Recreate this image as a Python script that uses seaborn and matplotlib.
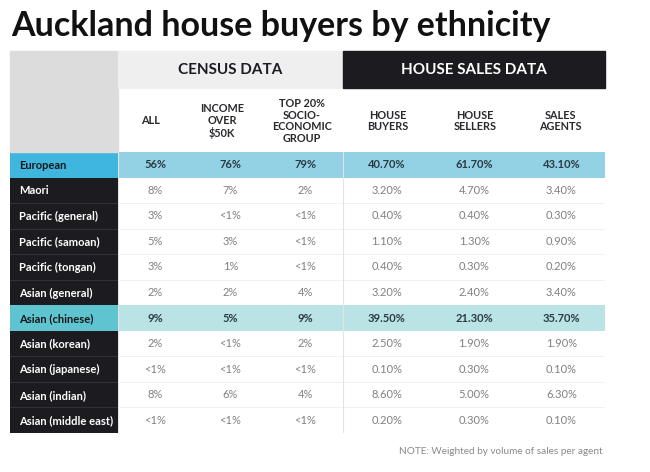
import numpy as np
import pandas as pd
import matplotlib
matplotlib.use("Agg")
import matplotlib.pyplot as plt
from matplotlib.colors import ListedColormap
from matplotlib.patches import Rectangle
import seaborn as sns

# table content
groups = ["European", "Maori", "Pacific (general)", "Pacific (samoan)", "Pacific (tongan)",
          "Asian (general)", "Asian (chinese)", "Asian (korean)", "Asian (japanese)",
          "Asian (indian)", "Asian (middle east)"]
census_cols = ["ALL", "INCOME\nOVER\n$50K", "TOP 20%\nSOCIO-\nECONOMIC\nGROUP"]
sales_cols = ["HOUSE\nBUYERS", "HOUSE\nSELLERS", "SALES\nAGENTS"]
census_all = ["56%", "8%", "3%", "5%", "3%", "2%", "9%", "2%", "<1%", "8%", "<1%"]
census_income = ["76%", "7%", "<1%", "3%", "1%", "2%", "5%", "<1%", "<1%", "6%", "<1%"]
census_top20 = ["79%", "2%", "<1%", "<1%", "<1%", "4%", "9%", "2%", "<1%", "4%", "<1%"]
house_buyers = ["40.70%", "3.20%", "0.40%", "1.10%", "0.40%", "3.20%", "39.50%", "2.50%", "0.10%", "8.60%", "0.20%"]
house_sellers = ["61.70%", "4.70%", "0.40%", "1.30%", "0.30%", "2.40%", "21.30%", "1.90%", "0.30%", "5.00%", "0.30%"]
sales_agents = ["43.10%", "3.40%", "0.30%", "0.90%", "0.20%", "3.40%", "35.70%", "1.90%", "0.10%", "6.30%", "0.10%"]
highlight = {"European": 1, "Asian (chinese)": 2}

W, H = 650, 472
fig = plt.figure(figsize=(6.5, 4.72), dpi=100)
fig.patch.set_facecolor("white")


def box(x0, y0, x1, y1):
    # pixel box -> figure fraction [left, bottom, width, height]
    return [x0 / W, 1 - y1 / H, (x1 - x0) / W, (y1 - y0) / H]


def fx(x):
    return x / W


def fy(y):
    return 1 - y / H


row_kind = np.array([highlight.get(g, 0) for g in groups])
body_cmap = ListedColormap(["white", "#92d2e4", "#b9e3e5"])
label_cmap = ListedColormap(["#1c1b20", "#3fb6de", "#5ec5d0"])

top, bottom = 152, 433

# label column
ax_l = fig.add_axes(box(10, top, 118, bottom))
sns.heatmap(pd.DataFrame({"g": row_kind}, index=groups), ax=ax_l, cmap=label_cmap,
            vmin=-0.5, vmax=2.5, cbar=False, xticklabels=False, yticklabels=False)
for i in range(1, len(groups)):
    if row_kind[i] == 0 and row_kind[i - 1] == 0:
        ax_l.axhline(i, color="#33323a", lw=0.7)
for i, g in enumerate(groups):
    hl = g in highlight
    ax_l.text(0.08, i + 0.52, g, ha="left", va="center", fontsize=8,
              fontweight="bold", color="#15161a" if hl else "white", family="Lato")

# census body and sales body
for (x0, x1, cols) in [(118, 343, [census_all, census_income, census_top20]),
                       (343, 605, [house_buyers, house_sellers, sales_agents])]:
    ax = fig.add_axes(box(x0, top, x1, bottom))
    kinds = np.repeat(row_kind[:, None], 3, axis=1)
    labels = np.array(cols).T
    sns.heatmap(kinds, ax=ax, cmap=body_cmap, vmin=-0.5, vmax=2.5, cbar=False,
                annot=labels, fmt="", xticklabels=False, yticklabels=False,
                annot_kws={"fontsize": 8, "family": "Lato"})
    for t, k in zip(ax.texts, np.repeat(row_kind, 3)):
        if k:
            t.set_color("#2a3a44")
            t.set_fontweight("bold")
        else:
            t.set_color("#808080")
    for i in range(1, len(groups)):
        if row_kind[i] == 0 and row_kind[i - 1] == 0:
            ax.axhline(i, color="#f0f0f0", lw=0.7)
    ax.axvline(0, color="#e4e4e4", lw=0.8)

# header blocks
fig.patches.append(Rectangle((fx(10), fy(152)), (118 - 10) / W, (152 - 51) / H,
                             transform=fig.transFigure, color="#dcdcdc", zorder=0))
fig.patches.append(Rectangle((fx(118), fy(88)), (343 - 118) / W, (88 - 51) / H,
                             transform=fig.transFigure, color="#efefef", zorder=0))
fig.patches.append(Rectangle((fx(343), fy(88)), (605 - 343) / W, (88 - 51) / H,
                             transform=fig.transFigure, color="#1c1b20", zorder=0))
fig.text(fx(230), fy(70), "CENSUS DATA", ha="center", va="center", fontsize=11,
         fontweight="bold", color="#1c1b20", family="Lato")
fig.text(fx(474), fy(70), "HOUSE SALES DATA", ha="center", va="center", fontsize=11,
         fontweight="bold", color="white", family="Lato")

for xc, lab in zip([151, 222, 302, 388, 475, 560], census_cols + sales_cols):
    fig.text(fx(xc), fy(121), lab, ha="center", va="center", fontsize=7.8,
             fontweight="bold", color="#2a2a2e", family="Lato", linespacing=1.1)

fig.text(fx(11), fy(26), "Auckland house buyers by ethnicity", ha="left", va="center",
         fontsize=24.5, fontweight="bold", color="#111111", family="Lato")
fig.text(fx(603), fy(452), "NOTE: Weighted by volume of sales per agent", ha="right",
         va="center", fontsize=7.2, color="#8a8a8a", family="Lato")

fig.savefig("out.png", dpi=100)
